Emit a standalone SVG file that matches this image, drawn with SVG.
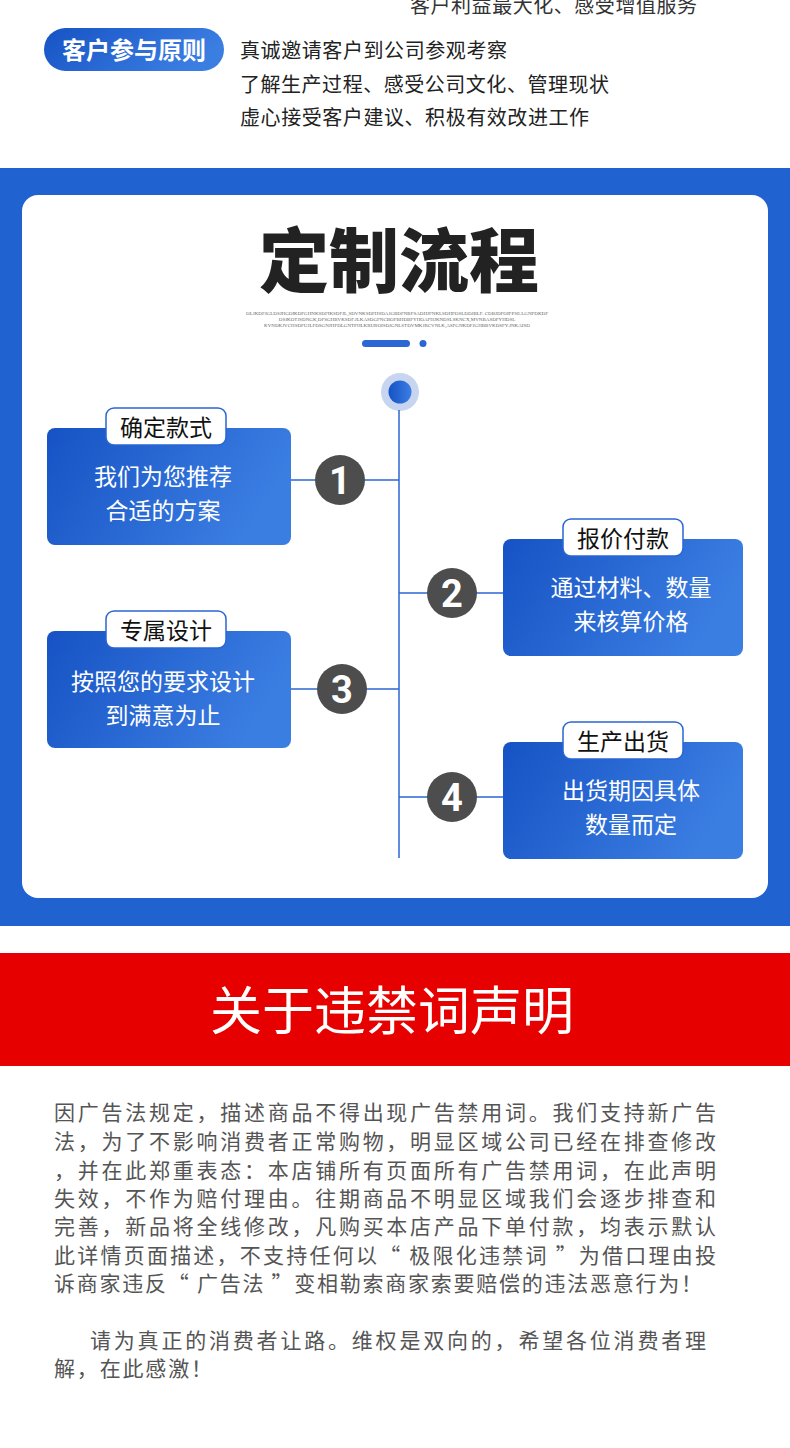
<svg xmlns="http://www.w3.org/2000/svg" width="790" height="1448" viewBox="0 0 790 1448">
<defs>
<linearGradient id="boxg" x1="0" y1="0" x2="1" y2="0.3">
<stop offset="0" stop-color="#1652c4"/>
<stop offset="1" stop-color="#3b7ee2"/>
</linearGradient>
<linearGradient id="dotg" x1="0" y1="0" x2="1" y2="0">
<stop offset="0" stop-color="#1652c4"/>
<stop offset="1" stop-color="#3b7ee2"/>
</linearGradient>
<style>
.cjk{font-family:"Noto Sans CJK SC","Noto Sans",sans-serif}
.box{fill:url(#boxg)}
.tag{fill:#fff;stroke:#2a66d4;stroke-width:1.5}
.tagt{font-size:23px;fill:#111;text-anchor:middle}
.body{font-size:23px;fill:#fff;text-anchor:middle}
.num{fill:#4d4d4d}
.numt{font-family:"Roboto","Liberation Sans",Arial,sans-serif;font-weight:bold;font-size:38px;fill:#fff;text-anchor:middle}
.conn{stroke:#2a66d4;stroke-width:1.5;fill:none}
.para{font-size:21px;fill:#555}
.tiny{font-family:"Liberation Serif",serif;font-size:5px;fill:#666;text-anchor:middle}
</style>
</defs>
<rect width="790" height="1448" fill="#fff"/>

<!-- top section -->
<text class="cjk" x="410" y="13" font-size="20" fill="#333" textLength="287" lengthAdjust="spacing">客户利益最大化、感受增值服务</text>
<g id="pill">
<rect x="44" y="28" width="180" height="43" rx="21.5" fill="url(#boxg)"/>
<text class="cjk" x="134" y="59" font-size="24" font-weight="bold" fill="#fff" text-anchor="middle">客户参与原则</text>
</g>
<g class="cjk" font-size="20" fill="#222">
<text x="240" y="58" textLength="267" lengthAdjust="spacing">真诚邀请客户到公司参观考察</text>
<text x="240" y="92" textLength="369" lengthAdjust="spacing">了解生产过程、感受公司文化、管理现状</text>
<text x="240" y="125" textLength="349" lengthAdjust="spacing">虚心接受客户建议、积极有效改进工作</text>
</g>

<!-- blue band -->
<rect x="0" y="168" width="790" height="758" fill="#2062d0"/>
<rect x="22" y="195" width="746" height="703" rx="16" fill="#fff"/>

<text class="cjk" x="399" y="287" font-size="70" font-weight="900" fill="#222" text-anchor="middle">定制流程</text>
<text class="tiny" x="397" y="315">OLJKDFJGLDSJHGOIKDFGHNKSDFIKSDFJL,SDVNKSDFHSDAJGBDFNBFSADHJFNKLSDHFOSLDDJBLF. CDBJDFOIFPSE.LGNFDKDF</text>
<text class="tiny" x="397" y="321">OSJKOTJSDNGK,DFSGHBVKSDF.JLKASDGFNCBOFBHDBFYHOAFHJKNDSLSKNCX,MVNBASDFYHDSL</text>
<text class="tiny" x="397" y="327">KVNDKJVCHSDFUJLFDSGNJHFDLGNTPHLKRUROISDJGNLSTDVMKJRCVNLK,ASFGNKDFJGHBBVKDSFY.JNKAISD</text>
<rect x="362" y="340" width="48" height="7" rx="3.5" fill="#2a66d4"/>
<circle cx="423" cy="343.5" r="3.5" fill="#2a66d4"/>

<g id="connectors">
<circle cx="400" cy="392" r="19" fill="#c8d5f1"/>
<circle cx="400" cy="392" r="11.5" fill="url(#dotg)"/>
<line class="conn" x1="399" y1="410" x2="399" y2="858"/>
<line class="conn" x1="291" y1="480" x2="399" y2="480"/>
<line class="conn" x1="399" y1="593" x2="503" y2="593"/>
<line class="conn" x1="291" y1="689" x2="399" y2="689"/>
<line class="conn" x1="399" y1="797" x2="503" y2="797"/>
</g>

<g id="step1">
<rect class="box" x="47" y="428" width="244" height="117" rx="8"/>
<rect class="tag" x="106" y="408" width="120" height="37" rx="8"/>
<text class="cjk tagt" x="166" y="436">确定款式</text>
<text class="cjk body" x="163" y="485">我们为您推荐</text>
<text class="cjk body" x="163" y="519">合适的方案</text>
<circle class="num" cx="340" cy="480" r="25"/>
<text class="numt" x="340" y="494">1</text>
</g>

<g id="step2">
<rect class="box" x="503" y="539" width="240" height="117" rx="8"/>
<rect class="tag" x="563" y="519" width="120" height="37" rx="8"/>
<text class="cjk tagt" x="623" y="547">报价付款</text>
<text class="cjk body" x="631" y="596">通过材料、数量</text>
<text class="cjk body" x="631" y="630">来核算价格</text>
<circle class="num" cx="452" cy="593" r="25"/>
<text class="numt" x="452" y="607">2</text>
</g>

<g id="step3">
<rect class="box" x="47" y="631" width="244" height="117" rx="8"/>
<rect class="tag" x="106" y="611" width="120" height="37" rx="8"/>
<text class="cjk tagt" x="166" y="639">专属设计</text>
<text class="cjk body" x="163" y="690">按照您的要求设计</text>
<text class="cjk body" x="163" y="724">到满意为止</text>
<circle class="num" cx="342" cy="689" r="25"/>
<text class="numt" x="342" y="703">3</text>
</g>

<g id="step4">
<rect class="box" x="503" y="742" width="240" height="117" rx="8"/>
<rect class="tag" x="563" y="722" width="120" height="37" rx="8"/>
<text class="cjk tagt" x="623" y="750">生产出货</text>
<text class="cjk body" x="631" y="799">出货期因具体</text>
<text class="cjk body" x="631" y="833">数量而定</text>
<circle class="num" cx="452" cy="797" r="25"/>
<text class="numt" x="452" y="811">4</text>
</g>

<!-- red band -->
<rect x="0" y="953" width="790" height="113" fill="#e60000"/>
<text class="cjk" x="392" y="1030" font-size="52" fill="#fff" text-anchor="middle">关于违禁词声明</text>

<g class="cjk para">
<text x="54" y="1120" textLength="662" lengthAdjust="spacing">因广告法规定，描述商品不得出现广告禁用词。我们支持新广告</text>
<text x="54" y="1149" textLength="662" lengthAdjust="spacing">法，为了不影响消费者正常购物，明显区域公司已经在排查修改</text>
<text x="54" y="1178" textLength="662" lengthAdjust="spacing">，并在此郑重表态：本店铺所有页面所有广告禁用词，在此声明</text>
<text x="54" y="1206" textLength="662" lengthAdjust="spacing">失效，不作为赔付理由。往期商品不明显区域我们会逐步排查和</text>
<text x="54" y="1234" textLength="662" lengthAdjust="spacing">完善，新品将全线修改，凡购买本店产品下单付款，均表示默认</text>
<text x="54" y="1263" textLength="662" lengthAdjust="spacing">此详情页面描述，不支持任何以“ 极限化违禁词 ”为借口理由投</text>
<text x="54" y="1291" textLength="648" lengthAdjust="spacing">诉商家违反“ 广告法 ”变相勒索商家索要赔偿的违法恶意行为！</text>
<text x="90" y="1348" textLength="616" lengthAdjust="spacing">请为真正的消费者让路。维权是双向的，希望各位消费者理</text>
<text x="54" y="1376" textLength="158" lengthAdjust="spacing">解，在此感激！</text>
</g>
</svg>
